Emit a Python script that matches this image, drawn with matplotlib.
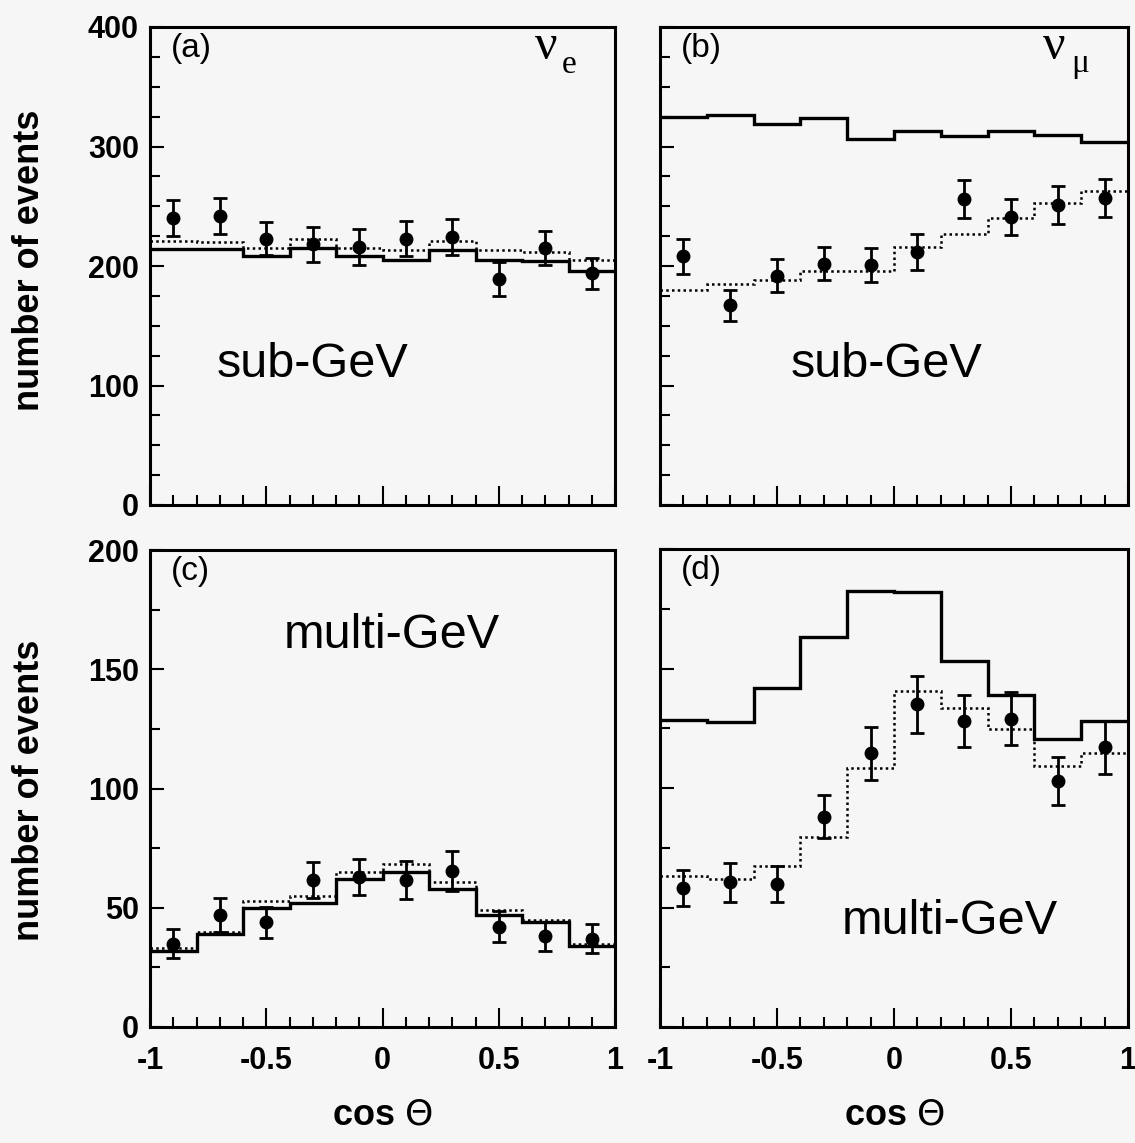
import numpy as np
import matplotlib.pyplot as plt
from matplotlib.ticker import MultipleLocator

plt.rcParams['font.family'] = ['Liberation Sans', 'DejaVu Sans']

# bin edges in cos(theta), 10 bins
edges = np.linspace(-1, 1, 11)
centers = (edges[:-1] + edges[1:]) / 2

# (a) sub-GeV, nu_e
a_data = [240, 242, 223, 218, 216, 223, 224, 189, 215, 194]
a_err = [15, 15, 14, 15, 15, 15, 15, 14, 14, 13]
a_nosc = [214, 214, 208, 215, 208, 205, 213, 205, 204, 196]
a_osc = [221, 220, 215, 223, 215, 213, 221, 213, 212, 205]

# (b) sub-GeV, nu_mu
b_data = [208, 167, 192, 202, 201, 212, 256, 241, 251, 257]
b_err = [15, 13, 14, 14, 14, 15, 16, 15, 16, 16]
b_nosc = [325, 326, 319, 324, 306, 313, 309, 313, 310, 304]
b_osc = [180, 185, 188, 196, 196, 216, 227, 240, 253, 263]

# (c) multi-GeV, nu_e
c_data = [35, 47, 44, 61.5, 63, 61.5, 65.5, 42, 38, 37]
c_err = [6, 7, 6.5, 7.5, 7.5, 8, 8.5, 6.5, 6, 6]
c_nosc = [32, 39, 50, 52, 62, 65, 58, 47, 44, 34]
c_osc = [33, 40, 53, 55, 65, 68.5, 61, 49, 45, 35]

# (d) multi-GeV, nu_mu
d_data = [58, 60.5, 60, 88, 114.5, 135, 128, 129, 103, 117]
d_err = [7.5, 8, 7.5, 9, 11, 12, 11, 11, 10, 11]
d_nosc = [128.5, 127.5, 142, 163, 182.5, 182, 153, 139, 120.5, 128]
d_osc = [63, 62, 67.5, 79.5, 108.5, 140.5, 133.5, 124.5, 109, 114.5]

bg = '#f6f6f6'
fig = plt.figure(figsize=(11.35, 11.43), dpi=100, facecolor=bg)

W, H = 1135, 1143
def make_ax(x0, x1, y0, y1):
    return fig.add_axes([x0 / W, 1 - y1 / H, (x1 - x0) / W, (y1 - y0) / H], facecolor=bg)

ax_a = make_ax(150, 615, 27, 505)
ax_b = make_ax(660, 1128, 27, 505)
ax_c = make_ax(150, 615, 550, 1027)
ax_d = make_ax(660, 1128, 549, 1027)

panels = [
    (ax_a, a_data, a_err, a_nosc, a_osc, 400, 100),
    (ax_b, b_data, b_err, b_nosc, b_osc, 400, 100),
    (ax_c, c_data, c_err, c_nosc, c_osc, 200, 50),
    (ax_d, d_data, d_err, d_nosc, d_osc, 200, 50),
]

for ax, dat, err, nosc, osc, ymax, ymaj in panels:
    ax.stairs(nosc, edges, color='black', lw=2.4, baseline=None)
    ax.stairs(osc, edges, color='black', lw=1.8, ls=(0, (1, 1.3)), baseline=None)
    ax.errorbar(centers, dat, yerr=err, fmt='o', color='black', ms=9,
                elinewidth=2, capsize=5, capthick=2)
    ax.set_xlim(-1, 1)
    ax.set_ylim(0, ymax)
    ax.xaxis.set_minor_locator(MultipleLocator(0.1))
    ax.yaxis.set_major_locator(MultipleLocator(ymaj))
    ax.yaxis.set_minor_locator(MultipleLocator(25))
    ax.tick_params(which='both', direction='in', width=1.5, labelsize=22, pad=8)
    ax.tick_params(axis='x', which='major', length=14, pad=14)
    ax.tick_params(axis='x', which='minor', length=7)
    ax.tick_params(axis='y', which='major', length=10)
    ax.tick_params(axis='y', which='minor', length=7)
    for s in ax.spines.values():
        s.set_linewidth(2.2)
    ax.set_xticks([-1, -0.5, 0, 0.5, 1])
    ax.set_xticklabels(['-1', '-0.5', '0', '0.5', '1'], fontweight='bold')
    for lab in ax.get_yticklabels():
        lab.set_fontweight('bold')

ax_a.tick_params(labelbottom=False)
ax_b.tick_params(labelbottom=False, labelleft=False)
ax_d.tick_params(labelleft=False)

# panel tags
for ax, tag in zip([ax_a, ax_b, ax_c, ax_d], ['(a)', '(b)', '(c)', '(d)']):
    ax.text(0.045, 0.955, tag, transform=ax.transAxes, fontsize=24, ha='left', va='center')

# neutrino flavour labels (upright nu with subscript)
fig.text(535 / W, 1 - 59 / H, 'ν', fontsize=36, family='Liberation Serif',
         ha='left', va='baseline')
fig.text(562 / W, 1 - 73 / H, 'e', fontsize=24, family='Liberation Serif',
         ha='left', va='baseline')
fig.text(1043 / W, 1 - 59 / H, 'ν', fontsize=36, family='Liberation Serif',
         ha='left', va='baseline')
fig.text(1071 / W, 1 - 72 / H, 'μ', fontsize=24, family='Liberation Serif',
         ha='left', va='baseline')

ax_a.text(0.35, 0.293, 'sub-GeV', transform=ax_a.transAxes, fontsize=35, ha='center', va='center')
ax_b.text(0.485, 0.293, 'sub-GeV', transform=ax_b.transAxes, fontsize=35, ha='center', va='center')
ax_c.text(0.52, 0.82, 'multi-GeV', transform=ax_c.transAxes, fontsize=35, ha='center', va='center')
ax_d.text(0.62, 0.22, 'multi-GeV', transform=ax_d.transAxes, fontsize=35, ha='center', va='center')

# axis titles
fig.text(30 / W, 1 - 260 / H, 'number of events', rotation=90, fontsize=26,
         fontweight='bold', ha='center', va='center')
fig.text(30 / W, 1 - 790 / H, 'number of events', rotation=90, fontsize=26,
         fontweight='bold', ha='center', va='center')
fig.text(382 / W, 1 - 1115 / H, r'cos $\Theta$', fontsize=26, fontweight='bold',
         ha='center', va='center')
fig.text(894 / W, 1 - 1115 / H, r'cos $\Theta$', fontsize=26, fontweight='bold',
         ha='center', va='center')

fig.savefig('out.png', dpi=100, facecolor=bg)
